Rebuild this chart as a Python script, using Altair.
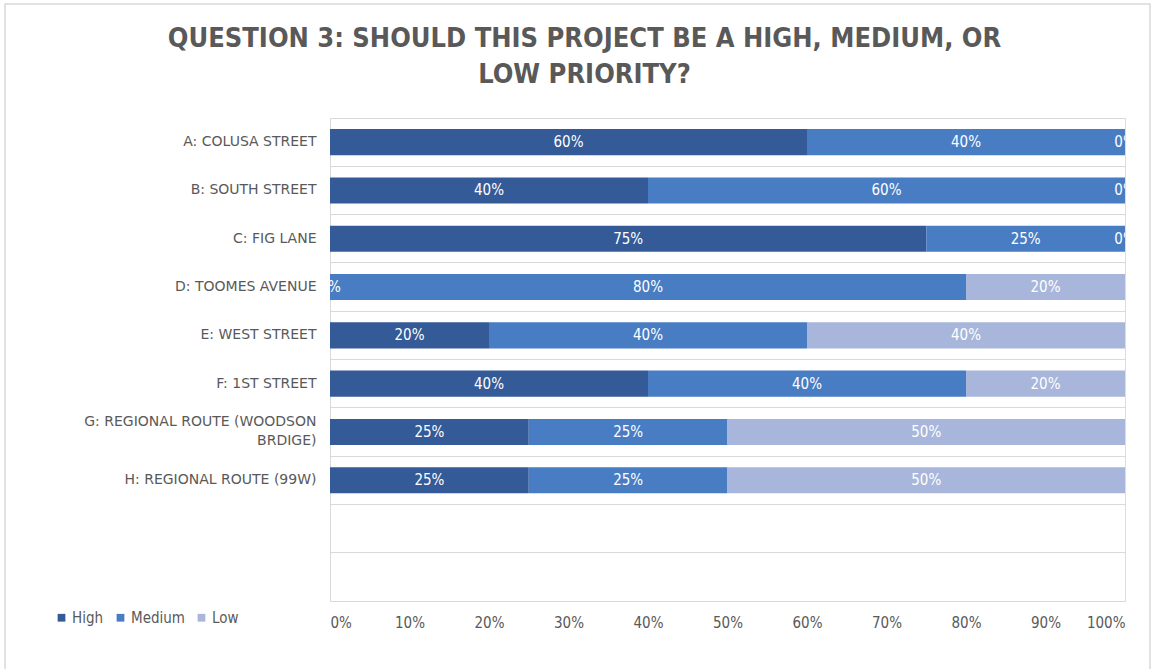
import altair as alt
import pandas as pd

categories = [
    "A: COLUSA STREET",
    "B: SOUTH STREET",
    "C: FIG LANE",
    "D: TOOMES AVENUE",
    "E: WEST STREET",
    "F: 1ST STREET",
    "G: REGIONAL ROUTE (WOODSON BRDIGE)",
    "H: REGIONAL ROUTE (99W)",
]
empty_rows = [" ", "  "]
series = ["High", "Medium", "Low"]
high = [60, 40, 75, 0, 20, 40, 25, 25]
medium = [40, 60, 25, 80, 40, 40, 25, 25]
low = [0, 0, 0, 20, 40, 20, 50, 50]
colors = ["#345A97", "#487CC3", "#A7B6DA"]
x_ticks = [0, 10, 20, 30, 40, 50, 60, 70, 80, 90, 100]

rows = []
for i, c in enumerate(categories):
    for j, (s, vals) in enumerate(zip(series, [high, medium, low])):
        rows.append({"category": c, "series": s, "order": j,
                     "value": vals[i] / 100.0, "label": f"{vals[i]}%"})
df = pd.DataFrame(rows)

narrow = "Liberation Sans Narrow, DejaVu Sans Condensed, Open Sans, sans-serif"
gray = "#595959"
grid = "#D9D9D9"
g_label = "G: REGIONAL ROUTE (WOODSON BRDIGE)"

y_enc = alt.Y(
    "category:N",
    scale=alt.Scale(domain=categories + empty_rows, paddingInner=0, paddingOuter=0),
    axis=alt.Axis(
        title=None, ticks=False, grid=True, gridColor=grid, bandPosition=0,
        domainColor=grid, labelFont="DejaVu Sans", labelFontSize=14,
        labelColor=gray, labelPadding=14, labelLimit=320, labelLineHeight=19,
        labelOffset={"condition": {"test": f"datum.label == '{g_label}'", "value": -10}, "value": 0},
        labelExpr=f"datum.label == '{g_label}' ? ['G: REGIONAL ROUTE (WOODSON', 'BRDIGE)'] : datum.label",
    ),
)

base = alt.Chart(df)

bars = base.mark_bar(height={"band": 0.54}).encode(
    x=alt.X(
        "value:Q", stack="zero",
        scale=alt.Scale(domain=[0, 1], nice=False),
        axis=alt.Axis(
            title=None, format="%", values=[t / 100 for t in x_ticks],
            grid=False, ticks=False, domain=True, domainColor=grid,
            labelFont=narrow, labelFontSize=15, labelColor=gray, labelPadding=14,
        ),
    ),
    y=y_enc,
    color=alt.Color(
        "series:N",
        scale=alt.Scale(domain=series, range=colors),
        legend=alt.Legend(
            title=None, orient="none", legendX=-276, legendY=492,
            direction="horizontal", symbolType="square", symbolSize=60,
            symbolStrokeWidth=0, labelFont=narrow, labelFontSize=15,
            labelColor=gray, labelOffset=3, columnPadding=9,
        ),
    ),
    order=alt.Order("order:Q"),
)

texts = base.transform_stack(
    stack="value", groupby=["category"], as_=["x0", "x1"],
    sort=[alt.SortField("order")],
).transform_calculate(
    xm="(datum.x0 + datum.x1) / 2"
).mark_text(color="white", font=narrow, fontSize=15, clip=True).encode(
    x=alt.X("xm:Q"),
    y=alt.Y("category:N"),
    text="label:N",
)

frame = alt.Chart(pd.DataFrame({"a": [0]})).mark_rect(
    fill=None, stroke=grid, strokeWidth=1.5, clip=False
).encode(
    x=alt.value(-325), x2=alt.value(820),
    y=alt.value(-114), y2=alt.value(600),
)

chart = alt.layer(frame, bars, texts).properties(
    width=795,
    height=483,
    padding={"left": 330, "top": 118, "right": 29, "bottom": 68},
    autosize=alt.AutoSizeParams(type="none"),
    title=alt.TitleParams(
        text=["QUESTION 3: SHOULD THIS PROJECT BE A HIGH, MEDIUM, OR", "LOW PRIORITY?"],
        font=narrow, fontSize=27, fontWeight="bold", color=gray,
        anchor="middle", dx=-143, offset=-86, lineHeight=36,
    ),
).configure_view(stroke=None).configure(background="white")

chart.save("out.html", embed_options={"renderer": "svg", "actions": False})
